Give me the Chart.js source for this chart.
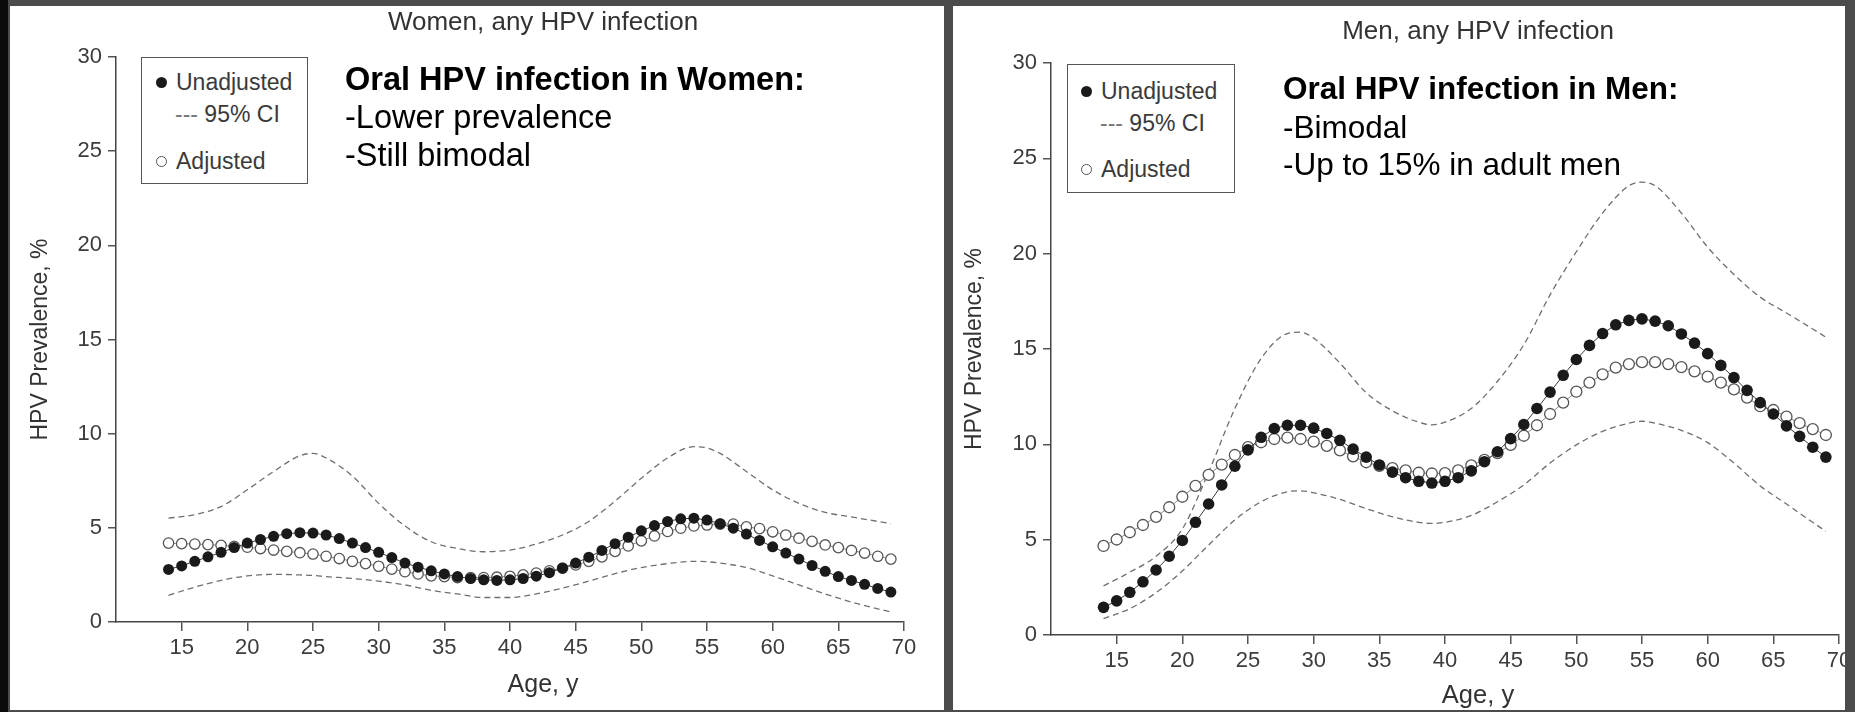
<!DOCTYPE html>
<html>
<head>
<meta charset="utf-8">
<script src="https://cdn.jsdelivr.net/npm/chart.js@4"></script>
<style>
  html, body { margin: 0; padding: 0; }
  body { width: 1855px; height: 712px; background: #4b4b4b; position: relative; overflow: hidden;
         font-family: "Liberation Sans", Arial, sans-serif; }
  .edge { position: absolute; left: 0; top: 0; width: 8px; height: 712px; background: #0a0a0a; }
  .panel { position: absolute; top: 6px; height: 704px; background: #fff; overflow: hidden; }
  #panelW { left: 10px; width: 934px; }
  #panelM { left: 953px; width: 892px; }
  canvas { position: absolute; left: 0; top: 0; }
  .txt { position: absolute; white-space: nowrap; color: #333; }
  .center { transform: translateX(-50%); }
  .note { color: #000; font-family: "Liberation Sans", Arial, sans-serif; }
  .legend { position: absolute; box-sizing: border-box; border: 1.5px solid #555; background: #fff; }
  .legend span { position: absolute; white-space: nowrap; color: #3a3a3a; font-size: 23px; line-height: 24px; }
  .dot { position: absolute; width: 11px; height: 11px; border-radius: 50%; box-sizing: border-box; }
  .dot.fill { background: #1a1a1a; }
  .dot.open { background: #fff; border: 1.3px solid #555; }
</style>
</head>
<body>
<div class="edge"></div>

<div class="panel" id="panelW">
  <canvas id="women" width="934" height="704"></canvas>
  <div class="txt center" style="left:533px; top:2px; font-size:26px; line-height:26px;">Women, any HPV infection</div>
  <div class="txt center" style="left:533px; top:665px; font-size:25px; line-height:25px;">Age, y</div>
  <div class="legend" style="left:131px; top:51px; width:167px; height:127px;">
    <div class="dot fill" style="left:13.5px; top:18.5px;"></div>
    <span style="left:34px; top:12px;">Unadjusted</span>
    <span style="left:33px; top:44px;"><span style="position:static; color:#777;">---</span> 95% CI</span>
    <div class="dot open" style="left:13.5px; top:97.5px;"></div>
    <span style="left:34px; top:91px;">Adjusted</span>
  </div>
  <div class="txt note" style="left:335px; top:57px; font-size:32.5px; line-height:32.5px; font-weight:bold;">Oral HPV infection in Women:</div>
  <div class="txt note" style="left:335px; top:94.5px; font-size:32.5px; line-height:32.5px;">-Lower prevalence</div>
  <div class="txt note" style="left:335px; top:133px; font-size:32.5px; line-height:32.5px;">-Still bimodal</div>
</div>

<div class="panel" id="panelM">
  <canvas id="men" width="940" height="704"></canvas>
  <div class="txt center" style="left:525px; top:11px; font-size:26px; line-height:26px;">Men, any HPV infection</div>
  <div class="txt center" style="left:525px; top:676px; font-size:25.5px; line-height:25.5px;">Age, y</div>
  <div class="legend" style="left:114px; top:58px; width:168px; height:129px;">
    <div class="dot fill" style="left:12.5px; top:20.5px;"></div>
    <span style="left:33px; top:14px;">Unadjusted</span>
    <span style="left:32px; top:46px;"><span style="position:static; color:#777;">---</span> 95% CI</span>
    <div class="dot open" style="left:12.5px; top:98.5px;"></div>
    <span style="left:33px; top:92px;">Adjusted</span>
  </div>
  <div class="txt note" style="left:330px; top:67px; font-size:31.5px; line-height:31.5px; font-weight:bold;">Oral HPV infection in Men:</div>
  <div class="txt note" style="left:330px; top:105.5px; font-size:31.5px; line-height:31.5px;">-Bimodal</div>
  <div class="txt note" style="left:330px; top:143px; font-size:31.5px; line-height:31.5px;">-Up to 15% in adult men</div>
</div>

<script>
// ages of the point estimates (one per year)
const ages = [14, 15, 16, 17, 18, 19, 20, 21, 22, 23, 24, 25, 26, 27, 28, 29, 30, 31, 32, 33, 34, 35, 36, 37, 38, 39, 40, 41,
  42, 43, 44, 45, 46, 47, 48, 49, 50, 51, 52, 53, 54, 55, 56, 57, 58, 59, 60, 61, 62, 63, 64, 65, 66, 67, 68, 69];

// women, any HPV infection
const womenUnadjusted = [2.79, 2.98, 3.22, 3.46, 3.70, 3.95, 4.19, 4.38, 4.55, 4.69, 4.74, 4.72, 4.62, 4.43, 4.19, 3.95,
  3.70, 3.42, 3.13, 2.91, 2.72, 2.55, 2.41, 2.31, 2.24, 2.21, 2.24, 2.31, 2.43, 2.62, 2.86, 3.13, 3.44, 3.80, 4.16, 4.50,
  4.84, 5.12, 5.34, 5.48, 5.51, 5.41, 5.22, 4.98, 4.67, 4.33, 3.99, 3.66, 3.34, 3.00, 2.69, 2.41, 2.21, 2.00, 1.78, 1.59];
const womenAdjusted = [4.19, 4.16, 4.14, 4.11, 4.07, 4.02, 3.97, 3.90, 3.82, 3.75, 3.68, 3.61, 3.49, 3.37, 3.22, 3.10,
  2.96, 2.81, 2.67, 2.55, 2.45, 2.41, 2.36, 2.36, 2.36, 2.38, 2.43, 2.50, 2.60, 2.72, 2.86, 3.03, 3.22, 3.46, 3.75, 4.04,
  4.31, 4.57, 4.81, 4.98, 5.10, 5.15, 5.20, 5.20, 5.05, 4.96, 4.79, 4.62, 4.45, 4.28, 4.09, 3.95, 3.80, 3.66, 3.49, 3.34];
const womenCiAges = [14, 16, 18, 20, 22, 24, 25, 26, 28, 30, 32, 34, 36, 38, 40, 42, 44, 46, 48, 50, 52, 54, 55, 56, 58,
  60, 62, 64, 66, 68, 69];
const womenUpper = [5.51, 5.70, 6.13, 7.02, 7.99, 8.83, 8.95, 8.71, 7.75, 6.30, 5.10, 4.26, 3.90, 3.73, 3.82, 4.14, 4.62,
  5.34, 6.42, 7.63, 8.71, 9.31, 9.24, 8.95, 7.99, 7.02, 6.30, 5.82, 5.58, 5.34, 5.22];
const womenLower = [1.42, 1.85, 2.21, 2.45, 2.53, 2.50, 2.47, 2.41, 2.31, 2.17, 1.97, 1.68, 1.49, 1.30, 1.30, 1.49, 1.80,
  2.17, 2.57, 2.89, 3.10, 3.22, 3.20, 3.13, 2.89, 2.45, 1.97, 1.49, 1.06, 0.70, 0.53];

// men, any HPV infection
const menUnadjusted = [1.45, 1.79, 2.24, 2.79, 3.41, 4.13, 4.96, 5.91, 6.87, 7.87, 8.85, 9.71, 10.37, 10.83, 11.00, 11.00,
  10.85, 10.57, 10.21, 9.75, 9.33, 8.92, 8.54, 8.25, 8.06, 7.97, 8.06, 8.25, 8.61, 9.09, 9.61, 10.30, 11.04, 11.88, 12.74,
  13.62, 14.45, 15.19, 15.81, 16.27, 16.50, 16.58, 16.46, 16.22, 15.79, 15.31, 14.76, 14.14, 13.50, 12.83, 12.19, 11.59,
  10.97, 10.42, 9.85, 9.33];
const menAdjusted = [4.67, 5.01, 5.39, 5.77, 6.20, 6.70, 7.25, 7.82, 8.40, 8.94, 9.44, 9.85, 10.11, 10.28, 10.35, 10.28,
  10.14, 9.92, 9.68, 9.37, 9.06, 8.87, 8.75, 8.63, 8.51, 8.47, 8.49, 8.63, 8.90, 9.18, 9.54, 9.97, 10.45, 11.00, 11.59,
  12.19, 12.76, 13.24, 13.67, 14.02, 14.21, 14.31, 14.31, 14.21, 14.05, 13.83, 13.55, 13.24, 12.88, 12.45, 12.00, 11.80,
  11.45, 11.11, 10.80, 10.49];
const menCiAges = [14, 16, 18, 20, 22, 24, 26, 28, 29, 30, 32, 34, 36, 38, 39, 40, 42, 44, 46, 48, 50, 52, 54, 55, 56, 58,
  60, 62, 64, 66, 68, 69];
const menUpper = [2.58, 3.29, 4.13, 5.56, 8.54, 11.88, 14.50, 15.81, 15.88, 15.57, 14.26, 12.71, 11.76, 11.16, 11.02,
  11.16, 11.88, 13.31, 15.22, 17.84, 20.10, 22.13, 23.56, 23.75, 23.56, 22.13, 20.34, 18.91, 17.72, 16.89, 16.05, 15.62];
const menLower = [0.86, 1.38, 2.22, 3.36, 4.72, 6.03, 6.99, 7.51, 7.56, 7.46, 7.11, 6.63, 6.20, 5.91, 5.85, 5.91, 6.27,
  6.99, 7.87, 9.02, 9.97, 10.68, 11.11, 11.21, 11.11, 10.73, 10.09, 9.02, 7.82, 6.87, 5.91, 5.44];

// axis ticks
const xTicks = [15, 20, 25, 30, 35, 40, 45, 50, 55, 60, 65, 70];
const yTicks = [0, 5, 10, 15, 20, 25, 30];

const pair = (xs, ys) => xs.map((x, i) => ({ x: x, y: ys[i] }));

function ciSet(xs, ys) {
  return {
    data: pair(xs, ys), borderColor: '#6f6f6f', borderWidth: 1.3, borderDash: [6, 4],
    pointRadius: 0, cubicInterpolationMode: 'monotone', fill: false
  };
}

function makeChart(id, p) {
  const tickFont = { family: '"Liberation Sans", Arial, sans-serif', size: 22 };
  return new Chart(document.getElementById(id), {
    type: 'line',
    data: {
      datasets: [
        {
          label: 'Unadjusted', data: pair(ages, p.unadj), borderColor: '#3a3a3a', borderWidth: 1,
          pointRadius: p.r, pointBackgroundColor: '#1a1a1a', pointBorderColor: '#1a1a1a', pointBorderWidth: 0
        },
        {
          label: 'Adjusted', data: pair(ages, p.adj), borderColor: '#8a8a8a', borderWidth: 1,
          pointRadius: p.r - 0.3, pointBackgroundColor: '#ffffff', pointBorderColor: '#555555', pointBorderWidth: 1.3
        },
        Object.assign({ label: '95% CI upper' }, ciSet(p.ciAges, p.upper)),
        Object.assign({ label: '95% CI lower' }, ciSet(p.ciAges, p.lower))
      ]
    },
    options: {
      responsive: false,
      animation: false,
      layout: { padding: { top: p.top, right: p.right, left: 0, bottom: 0 } },
      plugins: { legend: { display: false }, tooltip: { enabled: false } },
      scales: {
        x: {
          type: 'linear', min: 10, max: 70,
          afterBuildTicks: (ax) => { ax.ticks = [10].concat(xTicks).map(v => ({ value: v })); },
          afterFit: (ax) => { ax.height = p.xh; },
          ticks: {
            autoSkip: false, maxRotation: 0, padding: 4, color: '#3c3c3c', font: tickFont,
            callback: (v) => v === 10 ? '' : v
          },
          grid: {
            drawOnChartArea: false, tickLength: 9, lineWidth: 1.5,
            color: (c) => (c.tick && c.tick.value === 10) ? 'rgba(0,0,0,0)' : '#555'
          },
          border: { color: '#444', width: 1.5 }
        },
        y: {
          min: 0, max: 30,
          afterBuildTicks: (ax) => { ax.ticks = yTicks.map(v => ({ value: v })); },
          afterFit: (ax) => { ax.width = p.yw; },
          ticks: { padding: 6, color: '#3c3c3c', font: tickFont },
          grid: { drawOnChartArea: false, tickLength: 8, lineWidth: 1.5, color: '#555' },
          border: { color: '#444', width: 1.5 },
          title: {
            display: true, text: 'HPV Prevalence, %', color: '#333',
            font: { family: '"Liberation Sans", Arial, sans-serif', size: 23 },
            padding: { top: p.titlePad, bottom: 0 }
          }
        }
      }
    }
  });
}

makeChart('women', {
  unadj: womenUnadjusted, adj: womenAdjusted, ciAges: womenCiAges, upper: womenUpper, lower: womenLower,
  r: 5.5, top: 51, right: 40, xh: 88, yw: 106, titlePad: 17
});
makeChart('men', {
  unadj: menUnadjusted, adj: menAdjusted, ciAges: menCiAges, upper: menUpper, lower: menLower,
  r: 5.8, top: 57, right: 54, xh: 75, yw: 98, titlePad: 8
});
</script>
</body>
</html>
